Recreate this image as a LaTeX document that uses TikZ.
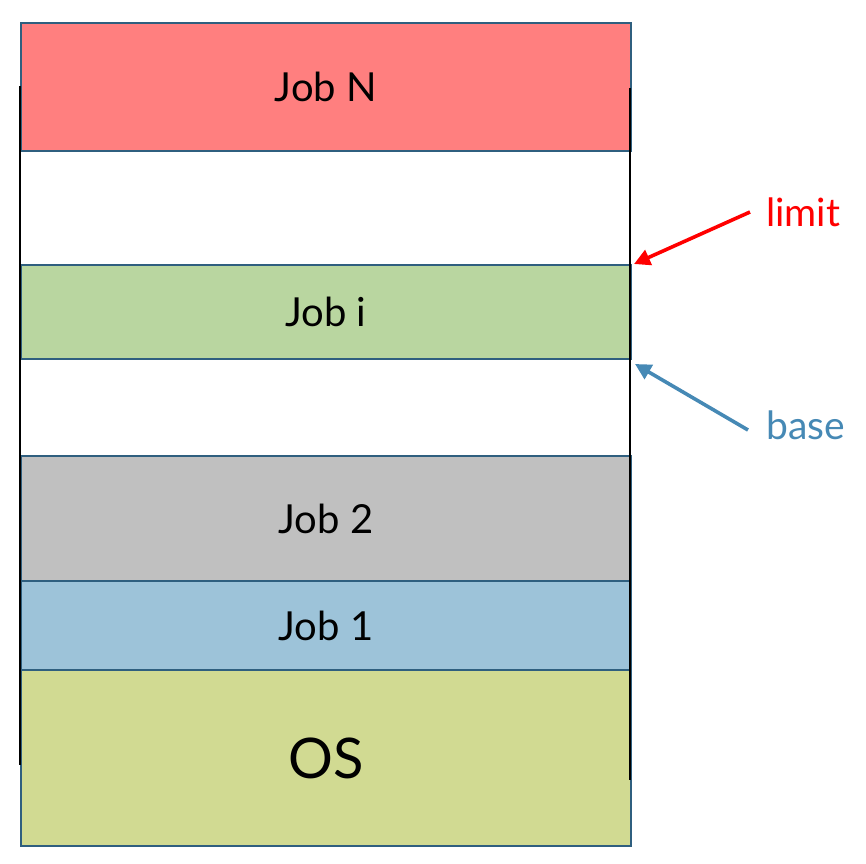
\documentclass[tikz,border=0pt]{standalone}
\usepackage{fontspec}
\setmainfont{Lato}
\usetikzlibrary{arrows.meta}
\definecolor{bordc}{HTML}{2F5F7F}
\definecolor{jobnc}{HTML}{FF7F7F}
\definecolor{jobic}{HTML}{B9D6A0}
\definecolor{jobtwoc}{HTML}{C0C0C0}
\definecolor{jobonec}{HTML}{9DC3D9}
\definecolor{osc}{HTML}{D1DA92}
\definecolor{basec}{HTML}{4689B5}
\tikzset{
  memblock/.style={draw=bordc, line width=2pt, rectangle, anchor=north west,
    minimum width=610pt, inner sep=0pt, font=\fontsize{40}{44}\selectfont},
  ptrlabel/.style={anchor=west, inner sep=0pt, font=\fontsize{39}{43}\selectfont},
  ptrarrow/.style={line width=3.6pt, -{Triangle[length=16pt,width=16pt]}}
}
\begin{document}
\begin{tikzpicture}[x=1pt,y=-1pt]
\useasboundingbox (0,0) rectangle (866,863);
\node[memblock, fill=jobnc, minimum height=128pt] (jobn) at (20,22) {Job N};
\node[memblock, fill=jobic, minimum height=94pt] (jobi) at (20,264) {Job i};
\node[memblock, fill=jobtwoc, minimum height=125pt] (jobtwo) at (20,455) {Job 2};
\node[memblock, fill=jobonec, minimum height=89pt] (jobone) at (20,580) {Job 1};
\node[memblock, fill=osc, minimum height=176pt, font=\fontsize{56}{60}\selectfont] (os) at (20,669) {OS};
\coordinate (ltop) at (20,86);
\coordinate (lbot) at (20,765);
\coordinate (rtop) at (630,88);
\coordinate (rbot) at (630,780);
\draw[black, line width=1.3pt] (ltop) -- (lbot);
\draw[black, line width=1.3pt] (rtop) -- (rbot);
\node[ptrlabel, text=red] (limit) at (766,212) {limit};
\node[ptrlabel, text=basec] (base) at (766,425) {base};
\coordinate (limitstart) at (750,212);
\coordinate (basestart) at (748,430);
\draw[ptrarrow, red] (limitstart) -- ([xshift=2pt]jobi.north east);
\draw[ptrarrow, basec] (basestart) -- ([xshift=3pt,yshift=-4pt]jobi.south east);
\end{tikzpicture}
\end{document}
